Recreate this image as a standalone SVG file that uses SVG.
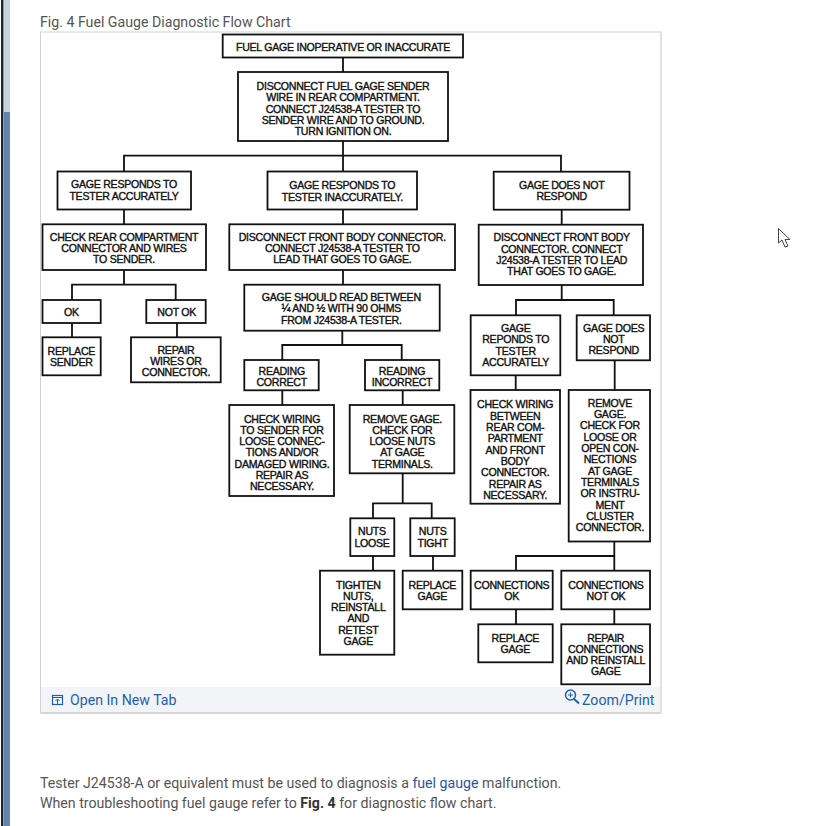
<svg xmlns="http://www.w3.org/2000/svg" width="835" height="826" viewBox="0 0 835 826">
<style>
.b{fill:#fff;stroke:#111;stroke-width:1.8}
.c{fill:none;stroke:#111;stroke-width:1.8}
.t{font-family:"Liberation Sans",Arial,sans-serif;font-size:10.6px;letter-spacing:-.27px;text-anchor:middle;fill:#111;stroke:#111;stroke-width:.38}
.u{font-family:Roboto,"Liberation Sans",sans-serif;font-size:14.16px;fill:#555}
.l{font-family:Roboto,"Liberation Sans",sans-serif;font-size:14.16px;fill:#1f5fae}
</style>
<rect width="835" height="826" fill="#fff"/>
<rect x="1" y="0" width="2" height="826" fill="#1f2630"/>
<rect x="3" y="0" width="1" height="826" fill="#8d98a6"/>
<rect x="4" y="0" width="6" height="112" fill="#c6d4e2"/>
<rect x="4" y="112" width="6" height="714" fill="#6486aa"/>
<text class="u" x="40" y="27">Fig. 4 Fuel Gauge Diagnostic Flow Chart</text>
<g id="panel">
<rect x="40.5" y="32" width="620.5" height="681" fill="#fff" stroke="#d2d2d2"/>
<rect x="41" y="687" width="619" height="25" fill="#f2f4f8"/>
<rect x="41" y="712" width="621" height="2" fill="#d6d6d6"/>
<rect x="660" y="32" width="2" height="682" fill="#e2e2e2"/>
</g>
<g id="connectors" class="c">
<path d="M343 57.500V72M343 141V171M124 171V155.700H561V171.700"/>
<path d="M124 209.500V224M124 270V284.700M72 300V284.700H175.700V300M72 323V337.300M177 323V337.300"/>
<path d="M343 209.500V224M343 270V284.700M342.300 330.700V345M282.300 360V345H401.700V360M282.300 390.300V405M402.700 390.300V405M402.700 473.300V503.300M373 518.300V503.300H431.700V518.300M373 556V570.700M433 556V570.700"/>
<path d="M561.700 209.700V224.700M561.700 285V300M516 315.300V300H613.700V315.300M515.700 375.300V390M614.700 360.300V390M614.300 541V570.700M516 570.700V556H614.300M516 609.300V624.300M614.300 609.300V624.300"/>
</g>
<g id="n1"><rect class="b" x="222.700" y="34.500" width="240.300" height="23"/><text class="t" x="343" y="50.500">FUEL GAGE INOPERATIVE OR INACCURATE</text></g>
<g id="n2"><rect class="b" x="238" y="72" width="210" height="69"/><text class="t" x="343"><tspan x="343" y="90">DISCONNECT FUEL GAGE SENDER</tspan><tspan x="343" y="101.300">WIRE IN REAR COMPARTMENT.</tspan><tspan x="343" y="112.700">CONNECT J24538-A TESTER TO</tspan><tspan x="343" y="124">SENDER WIRE AND TO GROUND.</tspan><tspan x="343" y="135.300">TURN IGNITION ON.</tspan></text></g>
<g id="n3"><rect class="b" x="57.500" y="171.500" width="133.500" height="38"/><text class="t"><tspan x="124" y="188.300">GAGE RESPONDS TO</tspan><tspan x="124" y="199.500">TESTER ACCURATELY</tspan></text></g>
<g id="n4"><rect class="b" x="267.500" y="171.500" width="149.500" height="38"/><text class="t"><tspan x="342.300" y="189.300">GAGE RESPONDS TO</tspan><tspan x="342.300" y="200.700">TESTER INACCURATELY.</tspan></text></g>
<g id="n5"><rect class="b" x="493.700" y="171.700" width="135.800" height="38"/><text class="t"><tspan x="561.700" y="188.700">GAGE DOES NOT</tspan><tspan x="561.700" y="200">RESPOND</tspan></text></g>
<g id="n6"><rect class="b" x="42.500" y="224.300" width="163.500" height="45.700"/><text class="t"><tspan x="124" y="240.700">CHECK REAR COMPARTMENT</tspan><tspan x="124" y="252">CONNECTOR AND WIRES</tspan><tspan x="124" y="263.300">TO SENDER.</tspan></text></g>
<g id="n7"><rect class="b" x="229.300" y="224.300" width="225.700" height="45.700"/><text class="t"><tspan x="342.300" y="240.700">DISCONNECT FRONT BODY CONNECTOR.</tspan><tspan x="342.300" y="252">CONNECT J24538-A TESTER TO</tspan><tspan x="342.300" y="263.300">LEAD THAT GOES TO GAGE.</tspan></text></g>
<g id="n8"><rect class="b" x="478.700" y="224.700" width="164.300" height="60.300"/><text class="t"><tspan x="561.700" y="241.300">DISCONNECT FRONT BODY</tspan><tspan x="561.700" y="252.700">CONNECTOR. CONNECT</tspan><tspan x="561.700" y="264">J24538-A TESTER TO LEAD</tspan><tspan x="561.700" y="275">THAT GOES TO GAGE.</tspan></text></g>
<g id="n9"><rect class="b" x="42.500" y="300" width="58.200" height="23"/><text class="t" x="71.300" y="316">OK</text></g>
<g id="n10"><rect class="b" x="146.300" y="300" width="59.400" height="23"/><text class="t" x="176.700" y="316">NOT OK</text></g>
<g id="n11"><rect class="b" x="42.500" y="337.300" width="58.200" height="38"/><text class="t"><tspan x="71.300" y="355">REPLACE</tspan><tspan x="71.300" y="366">SENDER</tspan></text></g>
<g id="n12"><rect class="b" x="131" y="337.300" width="89.700" height="45"/><text class="t"><tspan x="176" y="353.700">REPAIR</tspan><tspan x="176" y="365">WIRES OR</tspan><tspan x="176" y="376">CONNECTOR.</tspan></text></g>
<g id="n13"><rect class="b" x="244.300" y="284.700" width="195.400" height="46"/><text class="t"><tspan x="341.300" y="301">GAGE SHOULD READ BETWEEN</tspan><tspan x="341.300" y="312.300">¼ AND ½ WITH 90 OHMS</tspan><tspan x="341.300" y="323.700">FROM J24538-A TESTER.</tspan></text></g>
<g id="n14"><rect class="b" x="244.300" y="360" width="74.400" height="30.300"/><text class="t"><tspan x="281.700" y="374.700">READING</tspan><tspan x="281.700" y="386">CORRECT</tspan></text></g>
<g id="n15"><rect class="b" x="365" y="360" width="74.300" height="30.300"/><text class="t"><tspan x="402" y="374.700">READING</tspan><tspan x="402" y="386">INCORRECT</tspan></text></g>
<g id="n16"><rect class="b" x="229.300" y="405" width="104.700" height="91"/><text class="t"><tspan x="282" y="422.700">CHECK WIRING</tspan><tspan x="282" y="433.700">TO SENDER FOR</tspan><tspan x="282" y="445">LOOSE CONNEC-</tspan><tspan x="282" y="456.300">TIONS AND/OR</tspan><tspan x="282" y="468">DAMAGED WIRING.</tspan><tspan x="282" y="479.300">REPAIR AS</tspan><tspan x="282" y="490.300">NECESSARY.</tspan></text></g>
<g id="n17"><rect class="b" x="349.700" y="405" width="104.600" height="68.300"/><text class="t"><tspan x="402.300" y="422.700">REMOVE GAGE.</tspan><tspan x="402.300" y="433.700">CHECK FOR</tspan><tspan x="402.300" y="445">LOOSE NUTS</tspan><tspan x="402.300" y="456.300">AT GAGE</tspan><tspan x="402.300" y="468">TERMINALS.</tspan></text></g>
<g id="n18"><rect class="b" x="470.700" y="315.300" width="89.600" height="60"/><text class="t"><tspan x="515.700" y="332">GAGE</tspan><tspan x="515.700" y="343.300">REPONDS TO</tspan><tspan x="515.700" y="354.700">TESTER</tspan><tspan x="515.700" y="365.700">ACCURATELY</tspan></text></g>
<g id="n19"><rect class="b" x="576.700" y="315.300" width="73.300" height="45"/><text class="t"><tspan x="613.700" y="332">GAGE DOES</tspan><tspan x="613.700" y="343.300">NOT</tspan><tspan x="613.700" y="354.300">RESPOND</tspan></text></g>
<g id="n20"><rect class="b" x="470.500" y="390" width="89.500" height="113.700"/><text class="t"><tspan x="515.200" y="408.300">CHECK WIRING</tspan><tspan x="515.200" y="419.700">BETWEEN</tspan><tspan x="515.200" y="431">REAR COM-</tspan><tspan x="515.200" y="442.300">PARTMENT</tspan><tspan x="515.200" y="453.700">AND FRONT</tspan><tspan x="515.200" y="465">BODY</tspan><tspan x="515.200" y="476.300">CONNECTOR.</tspan><tspan x="515.200" y="487.700">REPAIR AS</tspan><tspan x="515.200" y="499">NECESSARY.</tspan></text></g>
<g id="n21"><rect class="b" x="568.700" y="390" width="81.300" height="151.500"/><text class="t"><tspan x="610" y="406.700">REMOVE</tspan><tspan x="610" y="418">GAGE.</tspan><tspan x="610" y="429.300">CHECK FOR</tspan><tspan x="610" y="440.700">LOOSE OR</tspan><tspan x="610" y="452">OPEN CON-</tspan><tspan x="610" y="463.300">NECTIONS</tspan><tspan x="610" y="474.700">AT GAGE</tspan><tspan x="610" y="486">TERMINALS</tspan><tspan x="610" y="497.300">OR INSTRU-</tspan><tspan x="610" y="508.700">MENT</tspan><tspan x="610" y="520">CLUSTER</tspan><tspan x="610" y="531">CONNECTOR.</tspan></text></g>
<g id="n22"><rect class="b" x="350.300" y="518.300" width="44" height="37.700"/><text class="t"><tspan x="372" y="535.300">NUTS</tspan><tspan x="372" y="546.700">LOOSE</tspan></text></g>
<g id="n23"><rect class="b" x="410.300" y="518.300" width="44.400" height="37.700"/><text class="t"><tspan x="432.700" y="535.300">NUTS</tspan><tspan x="432.700" y="546.700">TIGHT</tspan></text></g>
<g id="n24"><rect class="b" x="320" y="570.700" width="74.300" height="84"/><text class="t"><tspan x="358.300" y="588.700">TIGHTEN</tspan><tspan x="358.300" y="599.700">NUTS,</tspan><tspan x="358.300" y="611">REINSTALL</tspan><tspan x="358.300" y="622.300">AND</tspan><tspan x="358.300" y="633.700">RETEST</tspan><tspan x="358.300" y="644.700">GAGE</tspan></text></g>
<g id="n25"><rect class="b" x="402.700" y="570.700" width="59.600" height="38.600"/><text class="t"><tspan x="432.300" y="588.700">REPLACE</tspan><tspan x="432.300" y="599.700">GAGE</tspan></text></g>
<g id="n26"><rect class="b" x="470.700" y="570.700" width="82" height="38.600"/><text class="t"><tspan x="511.700" y="588.700">CONNECTIONS</tspan><tspan x="511.700" y="599.700">OK</tspan></text></g>
<g id="n27"><rect class="b" x="561.300" y="570.700" width="88.700" height="38.600"/><text class="t"><tspan x="606" y="588.700">CONNECTIONS</tspan><tspan x="606" y="599.700">NOT OK</tspan></text></g>
<g id="n28"><rect class="b" x="478.300" y="624.300" width="74.400" height="38"/><text class="t"><tspan x="515.300" y="641.700">REPLACE</tspan><tspan x="515.300" y="652.700">GAGE</tspan></text></g>
<g id="n29"><rect class="b" x="561.300" y="624.300" width="88.700" height="60"/><text class="t"><tspan x="605.700" y="641.700">REPAIR</tspan><tspan x="605.700" y="652.700">CONNECTIONS</tspan><tspan x="605.700" y="664">AND REINSTALL</tspan><tspan x="605.700" y="675">GAGE</tspan></text></g>
<g id="footer">
<rect x="52.500" y="695.500" width="10" height="9" fill="none" stroke="#1f5fae" stroke-width="1.200"/>
<path d="M52 697.500H63M57.500 704V699.500M55.500 701L57.500 699L59.500 701" fill="none" stroke="#1f5fae"/>
<text class="l" x="70" y="705">Open In New Tab</text>
<circle cx="570.500" cy="695" r="5" fill="none" stroke="#1f5fae" stroke-width="1.500"/>
<path d="M574 699L579 703.500" stroke="#1f5fae" stroke-width="2"/>
<path d="M568 695H573M570.500 692.500V697.500" stroke="#1f5fae"/>
<text class="l" x="582" y="705">Zoom/Print</text>
</g>
<text class="u" x="40" y="788">Tester J24538-A or equivalent must be used to diagnosis a <tspan fill="#2a55a5">fuel gauge</tspan> malfunction.</text>
<text class="u" x="40" y="808">When troubleshooting fuel gauge refer to <tspan font-weight="700" fill="#333">Fig. 4</tspan> for diagnostic flow chart.</text>
<path d="M778.500 228.500V243L782 240L785 247L788 246L785 239.500H790Z" fill="#fff" stroke="#3c4450"/>
</svg>
